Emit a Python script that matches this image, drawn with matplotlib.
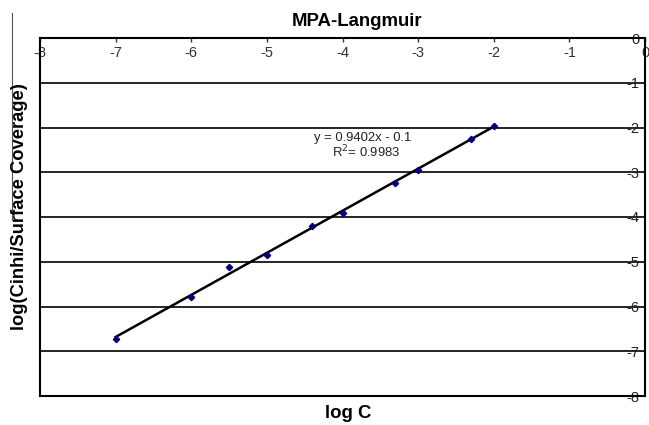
import matplotlib
matplotlib.use("Agg")
import matplotlib.pyplot as plt
import numpy as np
from matplotlib.lines import Line2D

plt.rcParams['font.family'] = ['Liberation Sans', 'DejaVu Sans']

log_c = [-7.0, -6.0, -5.5, -5.0, -4.4, -4.0, -3.3, -3.0, -2.3, -2.0]
log_ratio = [-6.73, -5.79, -5.12, -4.85, -4.20, -3.90, -3.23, -2.95, -2.26, -1.96]
slope = 0.9402
intercept = -0.1
fit_range = [-7.0, -2.0]
x_ticks = [-8, -7, -6, -5, -4, -3, -2, -1, 0]
y_ticks = [-8, -7, -6, -5, -4, -3, -2, -1, 0]

W, H = 649, 425
fig = plt.figure(figsize=(W / 100, H / 100), dpi=100)
ax = fig.add_axes([40 / W, 1 - 396 / H, (645 - 40) / W, (396 - 38) / H])

ax.set_xlim(-8, 0)
ax.set_ylim(-8, 0)

for yv in y_ticks:
    ax.axhline(yv, color='black', lw=1.2, zorder=1)

xf = np.array(fit_range)
ax.plot(xf, slope * xf + intercept, color='black', lw=1.8, zorder=2)
ax.plot(log_c, log_ratio, linestyle='none', marker='D', markersize=3.2,
        color='#000080', zorder=3)

ax.text(-3.74, -2.42, 'y = 0.9402x - 0.1\n  R$^{2}$= 0.9983', fontsize=9.4,
        ha='center', va='center', color='#222222', linespacing=1.0)

for s in ax.spines.values():
    s.set_linewidth(1.5)
    s.set_color('black')

ax.set_xticks(x_ticks)
ax.set_xticklabels([str(v) for v in x_ticks])
ax.tick_params(axis='x', top=True, labeltop=True, bottom=False, labelbottom=False,
               direction='in', length=3, width=1, pad=-16, labelsize=10.5,
               colors='#333333')
for lbl in ax.get_xticklabels():
    lbl.set_va('bottom')

ax.set_yticks(y_ticks)
ax.set_yticklabels([str(v) for v in y_ticks])
ax.tick_params(axis='y', right=True, labelright=True, left=False, labelleft=False,
               direction='in', length=0, pad=-4, labelsize=10.5, colors='#222222')
for lbl in ax.get_yticklabels():
    lbl.set_ha('right')

fig.text(357 / W, 1 - 22 / H, 'MPA-Langmuir', fontsize=13.4, fontweight='bold',
         ha='center', va='center')
fig.text(348 / W, 1 - 413 / H, 'log C', fontsize=13.4, fontweight='bold',
         ha='center', va='center')
fig.text(20 / W, 1 - 207 / H, 'log(Cinhi/Surface Coverage)', fontsize=13.2,
         fontweight='bold', ha='center', va='center', rotation=90)

fig.add_artist(Line2D([12 / W, 12 / W], [1 - 13 / H, 1 - 220 / H],
                      transform=fig.transFigure, color='#555555', lw=0.8))

fig.savefig('out.png', dpi=100)
